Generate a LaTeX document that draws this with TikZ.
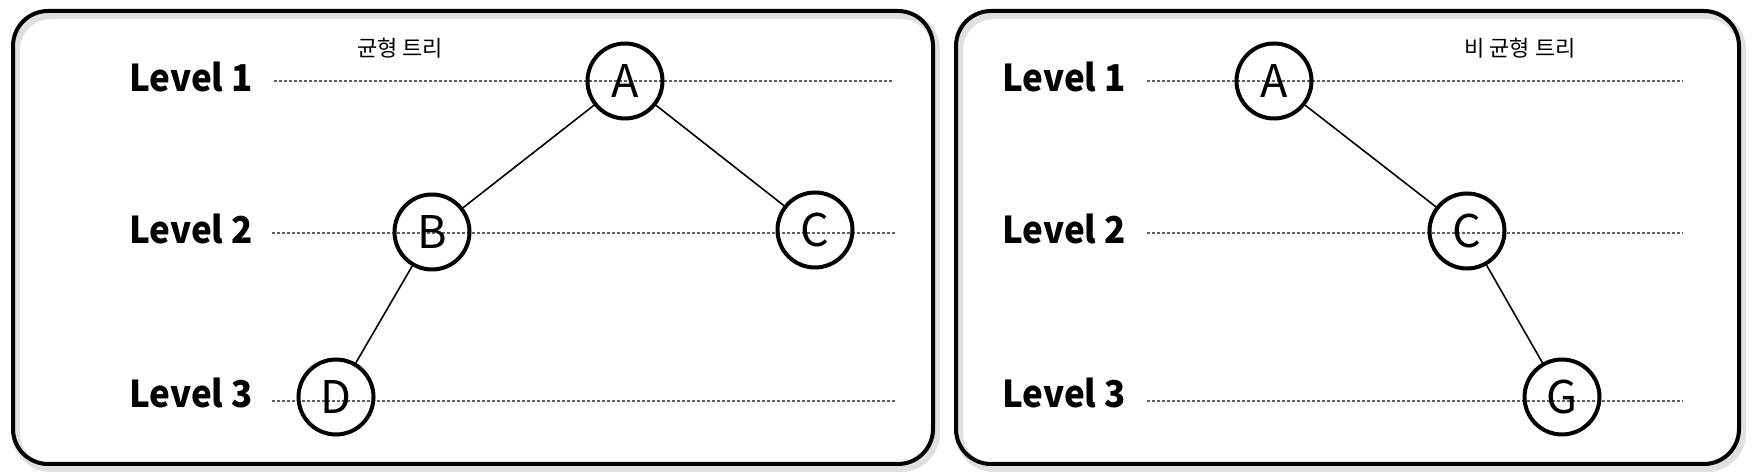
\documentclass[tikz,border=0pt]{standalone}
\usepackage{fontspec}
\usepackage{graphicx}
\setmainfont{Noto Sans CJK KR}
\newcommand{\lvltext}[1]{\scalebox{0.945}[1]{#1}}
\begin{document}
\begin{tikzpicture}[x=0.5pt,y=-0.5pt,
  panel/.style={draw=black, line width=2pt, rounded corners=17.5pt},
  panelshadow/.style={draw=black!12, line width=4pt, rounded corners=17.5pt},
  tnode/.style={circle, draw=black, line width=2pt, minimum size=37.5pt, inner sep=0pt, font=\fontsize{22.5}{22.5}\selectfont},
  lvl/.style={anchor=base west, inner sep=0pt, font=\fontsize{18.5}{18.5}\selectfont\bfseries},
  guide/.style={draw=black!62, line width=0.65pt, dash pattern=on 1.5pt off 1pt},
  edge/.style={draw=black, line width=0.8pt},
  ttl/.style={inner sep=0pt, font=\fontsize{11}{11}\selectfont}]
\useasboundingbox (0,0) rectangle (1753,474);
% panels
\draw[panelshadow] (16,15) rectangle (936,468);
\draw[panelshadow] (959,15) rectangle (1742,468);
\draw[panel] (13,11) rectangle (933,464);
\draw[panel] (956,11) rectangle (1739,464);
% titles
\node[ttl] (t1) at (400,48) {균형 트리};
\node[ttl] (t2) at (1520,48) {비 균형 트리};
% level labels
\node[lvl] (l11) at (129,92) {\lvltext{Level 1}};
\node[lvl] (l12) at (129,244) {\lvltext{Level 2}};
\node[lvl] (l13) at (129,408) {\lvltext{Level 3}};
\node[lvl] (r11) at (1002,92) {\lvltext{Level 1}};
\node[lvl] (r12) at (1002,244) {\lvltext{Level 2}};
\node[lvl] (r13) at (1002,408) {\lvltext{Level 3}};
% guide line ends
\coordinate (g1a) at (274,81);  \coordinate (g1b) at (894,81);
\coordinate (g2a) at (272,233); \coordinate (g2b) at (895,233);
\coordinate (g3a) at (272,401); \coordinate (g3b) at (895,401);
\coordinate (h1a) at (1147,81);  \coordinate (h1b) at (1683,81);
\coordinate (h2a) at (1147,233); \coordinate (h2b) at (1683,233);
\coordinate (h3a) at (1147,401); \coordinate (h3b) at (1683,401);
\draw[guide] (g1a) -- (g1b);
\draw[guide] (g2a) -- (g2b);
\draw[guide] (g3a) -- (g3b);
\draw[guide] (h1a) -- (h1b);
\draw[guide] (h2a) -- (h2b);
\draw[guide] (h3a) -- (h3b);
% balanced tree
\node[tnode] (A) at (625,81) {A};
\node[tnode] (B) at (432,232) {B};
\node[tnode] (C) at (815,230) {C};
\node[tnode] (D) at (336,397) {D};
\draw[edge] (A) -- (B);
\draw[edge] (A) -- (C);
\draw[edge] (B) -- (D);
% unbalanced tree
\node[tnode] (A2) at (1274,81) {A};
\node[tnode] (C2) at (1467,231) {C};
\node[tnode] (G2) at (1562,397) {G};
\draw[edge] (A2) -- (C2);
\draw[edge] (C2) -- (G2);
\end{tikzpicture}
\end{document}
